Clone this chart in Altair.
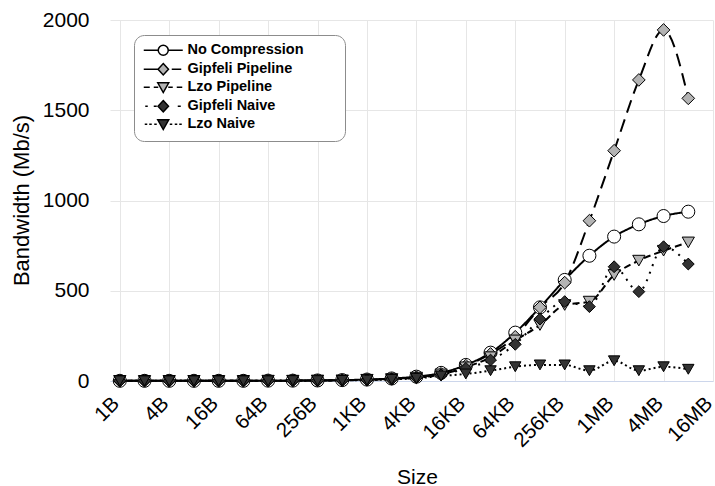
import json
import altair as alt
import pandas as pd

# ---- data ----
size_labels = ["1B", "2B", "4B", "8B", "16B", "32B", "64B", "128B", "256B", "512B",
               "1KB", "2KB", "4KB", "8KB", "16KB", "32KB", "64KB", "128KB", "256KB", "512KB",
               "1MB", "2MB", "4MB", "8MB"]
tick_labels = ["1B", "4B", "16B", "64B", "256B", "1KB", "4KB", "16KB", "64KB", "256KB",
               "1MB", "4MB", "16MB"]
y_ticks = [0, 500, 1000, 1500, 2000]

series_names = ["No Compression", "Gipfeli Pipeline", "Lzo Pipeline", "Gipfeli Naive", "Lzo Naive"]

no_compression = [1, 1, 1, 1, 1, 1, 2, 2, 3, 5, 8, 14, 24, 45, 89, 157, 268, 408, 560, 694, 800, 868, 914, 938]
gipfeli_pipeline = [1, 1, 1, 1, 1, 1, 2, 2, 3, 4, 7, 12, 21, 40, 85, 150, 245, 408, 545, 888, 1276, 1668, 1945, 1566]
lzo_pipeline = [1, 1, 1, 1, 1, 1, 2, 2, 3, 4, 7, 11, 19, 37, 76, 132, 225, 310, 421, 440, 587, 667, 722, 768]
gipfeli_naive = [1, 1, 1, 1, 1, 1, 1, 2, 2, 4, 6, 10, 18, 34, 70, 116, 203, 343, 440, 412, 633, 495, 744, 648]
lzo_naive = [1, 1, 1, 1, 1, 1, 1, 2, 2, 3, 5, 9, 15, 28, 39, 57, 79, 89, 89, 57, 112, 57, 79, 65]

values = [no_compression, gipfeli_pipeline, lzo_pipeline, gipfeli_naive, lzo_naive]

# ---- styles ----
dashes = [[1, 0], [13, 7], [7, 4], [2, 6], [2, 3]]
fills = ["white", "#b3b3b3", "#b3b3b3", "#333333", "#333333"]
shapes = ["circle", "diamond", "triangle-down", "diamond", "triangle-down"]
sizes = [170, 130, 150, 130, 150]

circ = "M1,0A1,1,0,1,1,-1,0A1,1,0,1,1,1,0Z"
diam = "M0,-1.15L1.05,0L0,1.15L-1.05,0Z"
tri = "M-1.1,-0.9L1.1,-0.9L0,1.05Z"
legend_paths = [
    "M-3.9,0L-1,0M1,0L3.9,0" + circ,
    "M-3.9,0L-1,0M1.7,0L3.6,0" + diam,
    "M-3.9,0L-2.7,0M-1.9,0L-1,0M1,0L1.9,0M2.7,0L3.8,0" + tri,
    "M-3.6,0L-3.1,0M-1.9,0L-1.3,0M2.9,0L3.5,0" + diam,
    "M-3.7,0L-3.2,0M-2.8,0L-2.3,0M-1.8,0L-1.3,0M1.3,0L1.8,0M2.3,0L2.8,0M3.2,0L3.7,0" + tri,
]

mult = {"B": 1, "KB": 1024, "MB": 1024 ** 2}


def to_bytes(lbl):
    for unit in ("KB", "MB", "B"):
        if lbl.endswith(unit):
            return int(lbl[: -len(unit)]) * mult[unit]


rows = []
for name, vals in zip(series_names, values):
    for lbl, v in zip(size_labels, vals):
        rows.append({"series": name, "size": to_bytes(lbl), "bandwidth": v})
df = pd.DataFrame(rows)

tick_bytes = [to_bytes(t) for t in tick_labels]
label_expr = json.dumps(tick_labels) + "[round(log(datum.value)/log(4))]"

FONT = "Liberation Sans"

x_enc = alt.X(
    "size:Q",
    scale=alt.Scale(type="log", base=2, domain=[0.76, 16777216], nice=False),
    axis=alt.Axis(
        values=tick_bytes, labelExpr=label_expr, labelAngle=-45, labelAlign="right",
        labelBaseline="middle", labelFontSize=20.5, labelFont=FONT, labelColor="black",
        labelPadding=19, labelOffset=-4, labelOverlap=False, labelFlush=False, ticks=False,
        domainColor="#ccd6eb", gridColor="#e6e6e6", title="Size", titleFont=FONT,
        titleFontSize=21, titleFontWeight="normal", titleColor="black",
        titleX=307, titleY=102, titleBaseline="alphabetic", titleAlign="center",
    ),
)
y_enc = alt.Y(
    "bandwidth:Q",
    scale=alt.Scale(domain=[0, 2000], nice=False),
    axis=alt.Axis(
        values=y_ticks, format="d", labelFontSize=21, labelFont=FONT, labelColor="black",
        labelPadding=21, ticks=False, domain=False, gridColor="#e6e6e6",
        title="Bandwidth (Mb/s)", titleFont=FONT, titleFontSize=22,
        titleFontWeight="normal", titleColor="black", titleAngle=270,
        titleX=-89, titleY=180, titleAlign="center", titleBaseline="middle",
    ),
)

lines = alt.Chart(df).mark_line(interpolate="monotone", strokeWidth=2, color="black").encode(
    x=x_enc, y=y_enc,
    strokeDash=alt.StrokeDash("series:N", scale=alt.Scale(domain=series_names, range=dashes), legend=None),
)

points = alt.Chart(df).mark_point(filled=True, stroke="black", strokeWidth=1, opacity=1).encode(
    x=x_enc, y=y_enc,
    shape=alt.Shape("series:N", scale=alt.Scale(domain=series_names, range=shapes), legend=None),
    fill=alt.Fill("series:N", scale=alt.Scale(domain=series_names, range=fills), legend=None),
    size=alt.Size("series:N", scale=alt.Scale(domain=series_names, range=sizes), legend=None),
)

pad = "\u2800" * 3
leg = alt.Legend(
    orient="none", legendX=24, legendY=15, title=None, padding=8,
    fillColor="white", strokeColor="#8c8c8c", cornerRadius=10,
    labelFont=FONT, labelFontSize=14.5, labelFontWeight="bold", labelColor="black",
    labelExpr="datum.label + '" + pad + "'", labelLimit=400,
    symbolSize=100, symbolStrokeWidth=1.5, symbolStrokeColor="black", symbolOpacity=1,
    symbolOffset=14, labelOffset=17, rowPadding=1,
)

legend_layer = alt.Chart(df).transform_filter("datum.bandwidth < 0").mark_point(
    filled=True, strokeWidth=1.5, opacity=1
).encode(
    x=x_enc, y=y_enc,
    shape=alt.Shape("series:N", scale=alt.Scale(domain=series_names, range=legend_paths), legend=leg),
    fill=alt.Fill("series:N", scale=alt.Scale(domain=series_names, range=fills), legend=leg),
    stroke=alt.Stroke("series:N", scale=alt.Scale(domain=series_names, range=["black"] * 5), legend=leg),
)

chart = (
    alt.layer(lines, points, legend_layer)
    .resolve_scale(shape="independent", fill="independent", size="independent", stroke="independent")
    .properties(
        width=603, height=361,
        autosize=alt.AutoSizeParams(type="none"),
        padding={"left": 110, "top": 20, "right": 2, "bottom": 105},
        background="white",
    )
    .configure_view(stroke=None)
)

chart.save("out.html", embed_options={"renderer": "svg", "actions": False})
